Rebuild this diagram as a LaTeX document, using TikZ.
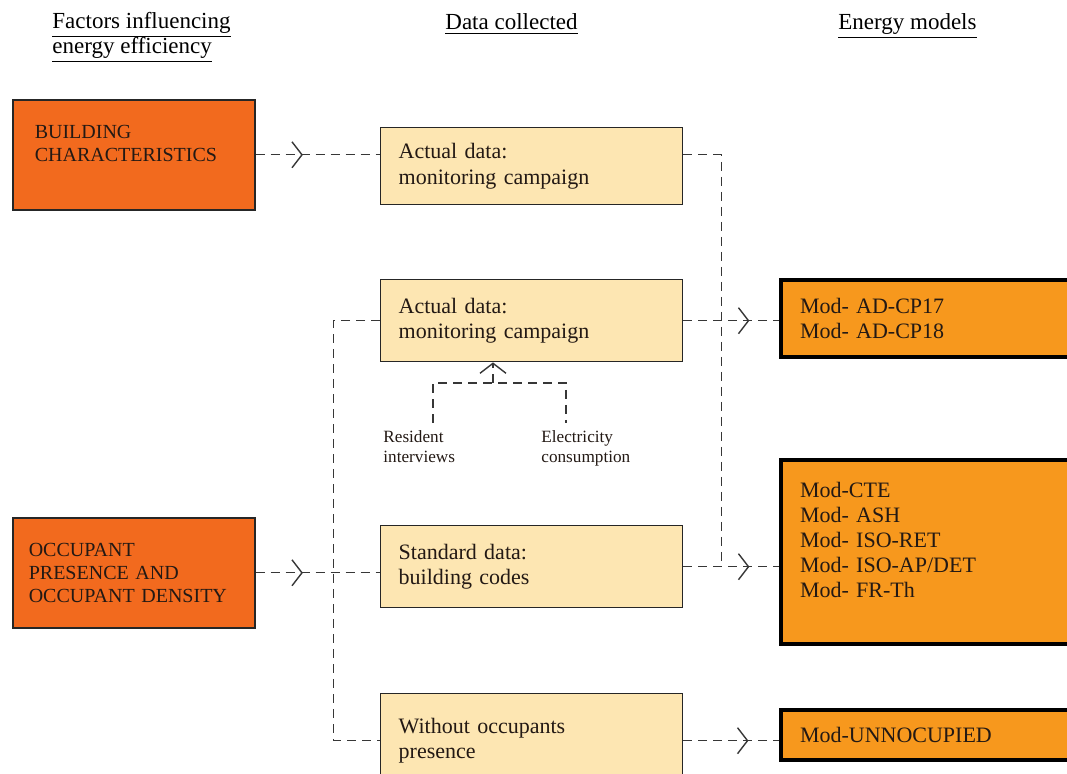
\documentclass[tikz,border=0pt]{standalone}
\usepackage{fontspec}
\setmainfont{Liberation Serif}
\usetikzlibrary{arrows.meta,decorations.markings}
\definecolor{factorfill}{RGB}{242,106,30}
\definecolor{datafill}{RGB}{253,230,178}
\definecolor{modelfill}{RGB}{247,152,29}
\definecolor{linecol}{RGB}{55,55,55}
\definecolor{txt}{RGB}{35,25,20}
\tikzset{
  box/.style={draw, anchor=north west, align=left, inner ysep=0pt, text=txt},
  factor/.style={box, fill=factorfill, line width=0.8pt, draw=black!85, inner xsep=#1, text width=121pt-2*#1, font=\fontsize{10}{11.5}\selectfont},
  databox/.style={box, fill=datafill, line width=0.7pt, draw=black!85, inner xsep=9pt, text width=133pt, font=\fontsize{11}{12.8}\selectfont},
  model/.style={box, fill=modelfill, line width=2pt, draw=black, inner xsep=9.5pt, text width=131pt, font=\fontsize{11}{12.5}\selectfont},
  header/.style={anchor=base west, inner sep=0pt, align=left, text=black, font=\fontsize{11.5}{12.6}\selectfont},
  small/.style={anchor=north west, inner sep=0pt, align=left, text=txt, font=\fontsize{8.6}{10}\selectfont},
  conn/.style={draw=linecol, line width=0.7pt, dash pattern=on 4.5pt off 3pt},
  chev/.style={decoration={markings, mark=at position #1 with {\arrow[linecol,line width=0.7pt]{Straight Barb[length=5pt,width=13pt]}}}, postaction={decorate}},
  upchev/.style={-{Straight Barb[length=5pt,width=13pt]}},
}
\begin{document}
\begin{tikzpicture}[x=0.5pt,y=-0.5pt]
\useasboundingbox (0,0) rectangle (1067,774);
\clip (0,0) rectangle (1067,774);
% headers
\node[header] (h1) at (52,54) {\underline{Factors influencing}\\\underline{energy efficiency}};
\node[header] (h2) at (445,30) {\underline{Data collected}};
\node[header] (h3) at (838,30) {\underline{Energy models}};
% factor boxes
\node[factor=11pt, minimum height=55pt] (BC) at (12,99) {BUILDING\\CHARACTERISTICS\\\mbox{}};
\node[factor=8pt, minimum height=55pt] (OPD) at (12,517) {OCCUPANT\\PRESENCE AND\\OCCUPANT DENSITY};
% data boxes
\node[databox, minimum height=38.5pt] (A1) at (380,127) {Actual data:\\monitoring campaign};
\node[databox, minimum height=41pt] (A2) at (380,279) {Actual data:\\monitoring campaign};
\node[databox, minimum height=41pt] (SD) at (380,525) {Standard data:\\building codes};
\node[databox, minimum height=47pt] (WO) at (380,693) {Without occupants\\presence};
% model boxes
\node[model, minimum height=38.5pt] (M1) at (779,278) {Mod- AD-CP17\\Mod- AD-CP18};
\node[model, minimum height=92pt] (M2) at (779,458) {Mod-CTE\\Mod- ASH\\Mod- ISO-RET\\Mod- ISO-AP/DET\\Mod- FR-Th\\\mbox{}};
\node[model, minimum height=25pt] (M3) at (779,708) {Mod-UNNOCUPIED};
% sub inputs
\node[small] (RI) at (383,430) {Resident\\interviews};
\node[small] (EC) at (541,430) {Electricity\\consumption};
\coordinate (ri) at (433,423);
\coordinate (ec) at (566,423);
\coordinate (stem) at (493,383);
% junction coordinates
\path (OPD.east) ++(78,0) coordinate (j1);
\path (SD.east) ++(38,0) coordinate (j2);
% connectors
\draw[conn, chev=0.38] (BC.east) -- (BC.east -| A1.west);
\draw[conn] (BC.east -| A1.east) -- (BC.east -| j2) -- (j2);
\draw[conn, chev=0.69] (A2.east) -- (A2.east -| M1.west);
\draw[conn, chev=0.38] (OPD.east) -- (OPD.east -| SD.west);
\draw[conn] (A2.west) -- (A2.west -| j1) -- (WO.west -| j1) -- (WO.west);
\draw[conn, chev=0.69] (SD.east) -- (SD.east -| M2.west);
\draw[conn, chev=0.68] (WO.east) -- (WO.east -| M3.west);
\draw[conn] (ri) -- (ri |- stem) -- (ec |- stem) -- (ec);
\draw[conn, upchev] (stem) -- (stem |- A2.south);
\end{tikzpicture}
\end{document}
